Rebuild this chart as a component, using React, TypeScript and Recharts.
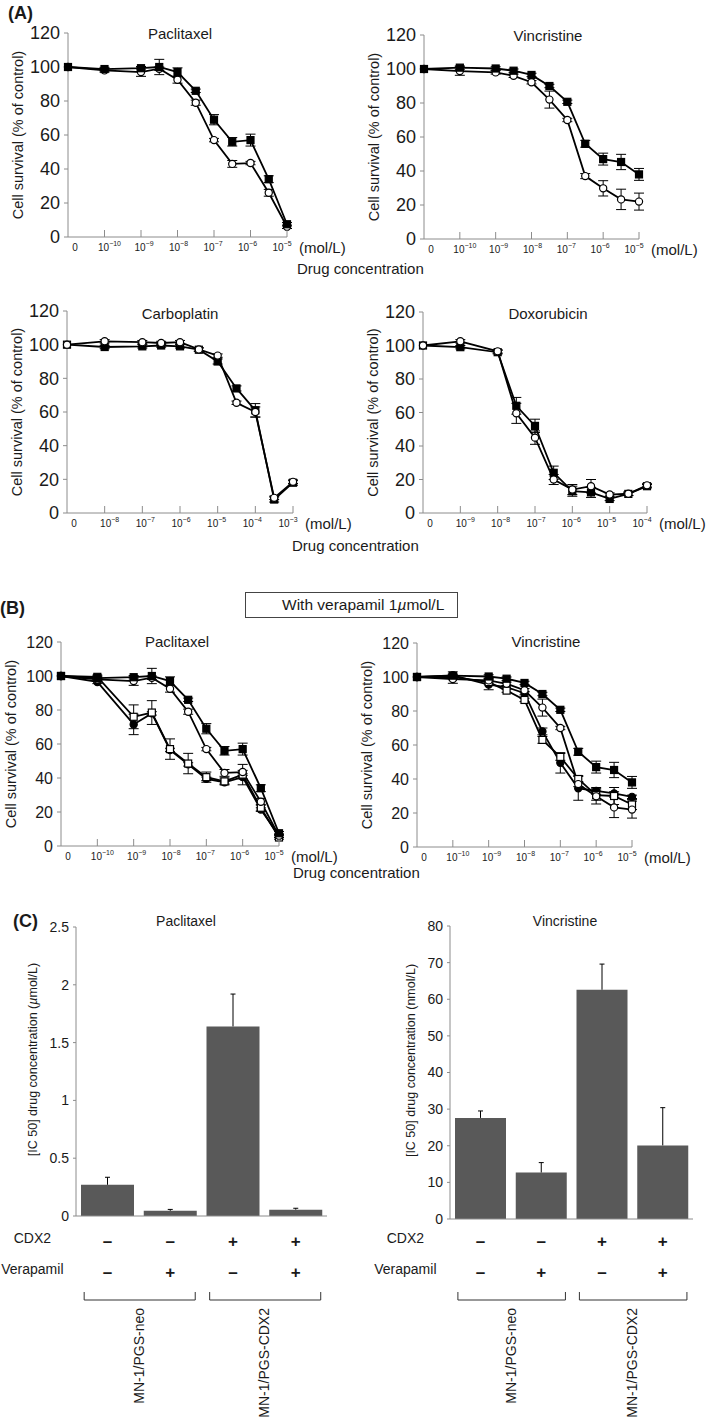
import React from 'react';
import { LineChart, Line, XAxis, YAxis, ErrorBar, BarChart, Bar } from 'recharts';

const AXIS = '#8c8c8c';
const INK = '#1a1a1a';
const FONT = "'Liberation Sans', Arial, Helvetica, sans-serif";
const NARROW = "'Liberation Sans Narrow', 'Arial Narrow', 'Liberation Sans', Arial, sans-serif";

// x positions on the log-concentration axis (0 = control, then one step per decade)
const concIndex = [0, 1, 2, 2.5, 3, 3.5, 4, 4.5, 5, 5.5, 6];
const expPacVin = [null, -10, -9, -8, -7, -6, -5];
const expCarbo = [null, -8, -7, -6, -5, -4, -3];
const expDoxo = [null, -9, -8, -7, -6, -5, -4];

// MN-1/PGS-CDX2 (filled squares) and MN-1/PGS-neo (open circles)
const pacCdx2 = [100, 98.8, 99.3, 100, 97, 86, 69, 56, 57, 34, 7.5];
const pacCdx2Err = [0, 1, 1, 4.5, 2.5, 1, 3, 2.5, 3.5, 2, 1];
const pacNeo = [100, 98, 97, 99, 92.5, 79, 57, 43, 43.5, 26, 6];
const pacNeoErr = [0, 1, 2.5, 1, 2, 1.5, 1, 2, 1, 2, 1];

const vinCdx2 = [100, 100.8, 100.3, 99, 96.5, 90, 80.7, 56, 47, 45.3, 38];
const vinCdx2Err = [0, 1, 1, 1, 1, 1, 1, 2, 3.5, 4.5, 3.5];
const vinNeo = [100, 98.8, 98, 96, 92.2, 82, 70, 37, 29.8, 23.3, 22];
const vinNeoErr = [0, 2.5, 1, 1, 1, 5, 1, 1.5, 4.5, 6, 5];

const carboCdx2 = [100, 98.6, 99, 99.5, 99, 97, 90, 74, 61, 8, 18];
const carboCdx2Err = [0, 1, 1, 1, 1, 1, 1.5, 1.5, 4, 1.5, 1.5];
const carboNeo = [100, 102, 101.5, 101, 101.5, 97.2, 93.5, 65.5, 60, 9, 18.5];
const carboNeoErr = [0, 1, 1, 1, 1, 1, 1, 1, 3, 1, 1];

const doxoCdx2 = [100, 99, 96, 64, 52, 24, 13, 12.3, 8.4, 11.4, 16];
const doxoCdx2Err = [0, 1, 1, 5, 4, 4, 3, 3, 1, 1, 1];
const doxoNeo = [100, 102.5, 96.5, 59.5, 45, 20, 14, 16, 11, 11.5, 16.5];
const doxoNeoErr = [0, 1, 1, 6, 4, 3, 3, 4, 1, 1, 1];

// with verapamil 1 umol/L
const pacNeoVera = [100, 96.5, 71.5, 78, 56.5, 48, 39.5, 37.5, 40.5, 21.5, 6];
const pacNeoVeraErr = [0, 1, 6, 1, 1, 1, 1, 1, 1, 1, 1];
const pacCdx2Vera = [100, 99.5, 76, 78.5, 57, 48.5, 40.5, 38, 42, 22.5, 5];
const pacCdx2VeraErr = [0, 1, 7, 7, 6, 6, 3, 2, 6, 2, 1];

const vinNeoVera = [100, 101, 95.5, 94, 90.5, 68, 49.5, 34.5, 33, 31.5, 29.5];
const vinNeoVeraErr = [0, 2, 3, 1, 1, 2, 6, 7, 2, 1, 1];
const vinCdx2Vera = [100, 100, 97, 92, 86.5, 63, 53, 40, 30.5, 30, 25];
const vinCdx2VeraErr = [0, 1, 1, 1, 1, 2, 2, 2, 3, 5, 3];

// (C) IC50
const ic50Groups = ['neo', 'neo+V', 'CDX2', 'CDX2+V'];
const cdx2Signs = ['–', '–', '+', '+'];
const verapamilSigns = ['–', '+', '–', '+'];
const cellLines = ['MN-1/PGS-neo', 'MN-1/PGS-CDX2'];
const pacIC50 = [0.27, 0.045, 1.64, 0.055];
const pacIC50Err = [0.065, 0.012, 0.28, 0.012];
const vinIC50 = [27.6, 12.7, 62.6, 20.1];
const vinIC50Err = [1.9, 2.7, 7.0, 10.3];

type MarkerKind = 'sqFilled' | 'circOpen' | 'circFilled' | 'sqOpen';
type Series = { id: string; values: number[]; errors: number[]; marker: MarkerKind };

function Marker({ cx, cy, kind }: { cx?: number; cy?: number; kind: MarkerKind }) {
  if (cx == null || cy == null || isNaN(cx) || isNaN(cy)) return null;
  const fill = kind === 'sqFilled' || kind === 'circFilled' ? '#000' : '#fff';
  if (kind === 'sqFilled' || kind === 'sqOpen') {
    return <rect x={cx - 3.5} y={cy - 3.5} width={7} height={7} fill={fill} stroke="#000" strokeWidth={1.2} />;
  }
  return <circle cx={cx} cy={cy} r={3.6} fill={fill} stroke="#000" strokeWidth={1.2} />;
}

function ConcTick(props: any) {
  const { x, y, payload, exps } = props;
  const i = Number(payload.value);
  const e = exps[i];
  const lx = x + 7 - 2 * i;
  return (
    <g>
      {i > 0 && <line x1={x} x2={x} y1={y} y2={y - 7} stroke={AXIS} />}
      <text x={lx} y={y + 10} textAnchor="middle" dominantBaseline="central" fontSize={10} fill={INK} fontFamily={FONT}>
        {e == null ? '0' : <>10<tspan dy={-4} fontSize={7}>{`\u2212${-e}`}</tspan></>}
      </text>
      {i === 6 && (
        <text x={x + 12} y={y + 10} dominantBaseline="central" fontSize={15} fill={INK} fontFamily={FONT}>(mol/L)</text>
      )}
    </g>
  );
}

function AxisTitle(props: any) {
  const { viewBox, dx, dy = 0, fontSize, children } = props;
  const vb = viewBox || { x: 0, y: 0, width: 0, height: 0 };
  const cx = vb.x + dx;
  const cy = vb.y + vb.height / 2 + dy;
  return (
    <text x={cx} y={cy} transform={`rotate(-90 ${cx} ${cy})`} textAnchor="middle" dominantBaseline="central"
      fontSize={fontSize} fill={INK} fontFamily={FONT}>
      {children}
    </text>
  );
}

function SurvivalChart({ x0, y0, w, h, exps, series, tickFont, tickSize }: {
  x0: number; y0: number; w: number; h: number; exps: (number | null)[]; series: Series[]; tickFont: string; tickSize: number;
}) {
  const data = concIndex.map((x, i) => {
    const row: Record<string, number> = { x };
    series.forEach(s => { row[s.id] = s.values[i]; row[s.id + 'Err'] = s.errors[i]; });
    return row;
  });
  const padL = 60, padT = 10, padR = 75, padB = 30;
  return (
    <div style={{ position: 'absolute', left: x0 - padL, top: y0 - padT }}>
      <LineChart width={padL + w + padR} height={padT + h + padB} data={data}
        margin={{ top: padT, right: padR, bottom: 0, left: 0 }}>
        <XAxis dataKey="x" type="number" domain={[0, 6]} ticks={[0, 1, 2, 3, 4, 5, 6]} interval={0}
          height={padB} tickLine={false} tickSize={0} tickMargin={0} stroke={AXIS}
          tick={(p: any) => <ConcTick {...p} exps={exps} />} />
        <YAxis domain={[0, 120]} ticks={[0, 20, 40, 60, 80, 100, 120]} interval={0} width={padL}
          stroke={AXIS} tickSize={4} tickMargin={4}
          tick={{ fill: INK, fontSize: tickSize, fontFamily: tickFont }}
          label={(p: any) => <AxisTitle viewBox={p.viewBox} dx={10} fontSize={14.5}>Cell survival (% of control)</AxisTitle>} />
        {series.map(s => (
          <Line key={s.id} dataKey={s.id} type="linear" stroke="#000" strokeWidth={1.8} isAnimationActive={false}
            activeDot={false}
            dot={(p: any) => <Marker key={`${s.id}-${p.index}`} cx={p.cx} cy={p.cy} kind={s.marker} />}>
            <ErrorBar dataKey={s.id + 'Err'} direction="y" width={5} stroke="#000" strokeWidth={1} />
          </Line>
        ))}
      </LineChart>
    </div>
  );
}

function GroupTick(props: any) {
  const { x, y, index, step, rowShift } = props;
  const r1 = y + 25 + rowShift;
  const r2 = y + 56 + rowShift;
  const txt = { fontFamily: FONT, fill: INK } as const;
  return (
    <g>
      {index === 0 && (
        <>
          <text x={x - 75} y={r1 - 3} textAnchor="middle" dominantBaseline="central" fontSize={14} {...txt}>CDX2</text>
          <text x={x - 75} y={r2 - 3} textAnchor="middle" dominantBaseline="central" fontSize={14} {...txt}>Verapamil</text>
        </>
      )}
      <text x={x} y={r1} textAnchor="middle" dominantBaseline="central" fontSize={17} fontWeight="bold" {...txt}>{cdx2Signs[index]}</text>
      <text x={x} y={r2} textAnchor="middle" dominantBaseline="central" fontSize={17} fontWeight="bold" {...txt}>{verapamilSigns[index]}</text>
      {index % 2 === 0 && (
        <>
          <path d={`M${x - 0.37 * step},${r2 + 20} V${r2 + 28} H${x + 1.4 * step} V${r2 + 20}`} fill="none" stroke="#333" strokeWidth={1} />
          <text transform={`translate(${x + 0.5 * step},${r2 + 36}) rotate(-90)`} textAnchor="end" dominantBaseline="central"
            fontSize={14} {...txt}>{cellLines[index / 2]}</text>
        </>
      )}
    </g>
  );
}

// upper-only error whisker, drawn as a stacked segment on top of each bar
function Whisker(props: any) {
  const { x, y, width, height } = props;
  if (x == null || y == null || !height) return null;
  const cx = x + width / 2;
  return (
    <g>
      <line x1={cx} x2={cx} y1={y} y2={y + height} stroke="#000" strokeWidth={1} />
      <line x1={cx - 2.5} x2={cx + 2.5} y1={y} y2={y} stroke="#000" strokeWidth={1} />
    </g>
  );
}

function IC50Chart({ left, x0, y0, w, h, bottom, values, errors, yMax, yTicks, title, labelDx, labelDy, rowShift }: any) {
  const data = ic50Groups.map((g, i) => ({ group: g, value: values[i], err: errors[i] }));
  const padT = 10, padR = 10;
  const yw = x0 - left;
  return (
    <div style={{ position: 'absolute', left, top: y0 - padT }}>
      <BarChart width={yw + w + padR} height={padT + h + bottom} data={data} barCategoryGap={5}
        margin={{ top: padT, right: padR, bottom: 0, left: 0 }}>
        <XAxis dataKey="group" type="category" interval={0} height={bottom} tickLine={false} tickSize={0} tickMargin={0}
          stroke={AXIS} tick={(p: any) => <GroupTick {...p} step={w / 4} rowShift={rowShift} />} />
        <YAxis domain={[0, yMax]} ticks={yTicks} interval={0} width={yw} stroke={AXIS} tickSize={3} tickMargin={4}
          tick={{ fill: INK, fontSize: 14, fontFamily: FONT }}
          label={(p: any) => <AxisTitle viewBox={p.viewBox} dx={labelDx} dy={labelDy} fontSize={12.5}>{title}</AxisTitle>} />
        <Bar dataKey="value" stackId="ic" fill="#595959" isAnimationActive={false} />
        <Bar dataKey="err" stackId="ic" fill="none" isAnimationActive={false} shape={(p: any) => <Whisker {...p} />} />
      </BarChart>
    </div>
  );
}

function Txt({ x, y, size = 15, bold = false, anchor = 'start', children }: any) {
  return (
    <div style={{
      position: 'absolute', left: x, top: y, fontSize: size, fontWeight: bold ? 700 : 400, lineHeight: 1,
      whiteSpace: 'nowrap', color: INK, transform: `translate(${anchor === 'middle' ? '-50%' : '0'}, -50%)`,
    }}>{children}</div>
  );
}

const pacSeriesA: Series[] = [
  { id: 'neo', values: pacNeo, errors: pacNeoErr, marker: 'circOpen' },
  { id: 'cdx2', values: pacCdx2, errors: pacCdx2Err, marker: 'sqFilled' },
];
const vinSeriesA: Series[] = [
  { id: 'neo', values: vinNeo, errors: vinNeoErr, marker: 'circOpen' },
  { id: 'cdx2', values: vinCdx2, errors: vinCdx2Err, marker: 'sqFilled' },
];
const carboSeries: Series[] = [
  { id: 'cdx2', values: carboCdx2, errors: carboCdx2Err, marker: 'sqFilled' },
  { id: 'neo', values: carboNeo, errors: carboNeoErr, marker: 'circOpen' },
];
const doxoSeries: Series[] = [
  { id: 'cdx2', values: doxoCdx2, errors: doxoCdx2Err, marker: 'sqFilled' },
  { id: 'neo', values: doxoNeo, errors: doxoNeoErr, marker: 'circOpen' },
];
const pacSeriesB: Series[] = [
  { id: 'neoV', values: pacNeoVera, errors: pacNeoVeraErr, marker: 'circFilled' },
  { id: 'cdx2V', values: pacCdx2Vera, errors: pacCdx2VeraErr, marker: 'sqOpen' },
  { id: 'neo', values: pacNeo, errors: pacNeoErr, marker: 'circOpen' },
  { id: 'cdx2', values: pacCdx2, errors: pacCdx2Err, marker: 'sqFilled' },
];
const vinSeriesB: Series[] = [
  { id: 'neoV', values: vinNeoVera, errors: vinNeoVeraErr, marker: 'circFilled' },
  { id: 'cdx2V', values: vinCdx2Vera, errors: vinCdx2VeraErr, marker: 'sqOpen' },
  { id: 'neo', values: vinNeo, errors: vinNeoErr, marker: 'circOpen' },
  { id: 'cdx2', values: vinCdx2, errors: vinCdx2Err, marker: 'sqFilled' },
];

export default function App() {
  return (
    <div style={{ position: 'absolute', left: 0, top: 0, width: 709, height: 1418, overflow: 'hidden', background: '#fff', fontFamily: FONT }}>
      <Txt x={8} y={13} size={18} bold>(A)</Txt>
      <Txt x={180} y={33} anchor="middle">Paclitaxel</Txt>
      <Txt x={548} y={35} anchor="middle">Vincristine</Txt>
      <SurvivalChart x0={68} y0={33} w={219} h={204} exps={expPacVin} series={pacSeriesA} tickFont={NARROW} tickSize={18} />
      <SurvivalChart x0={424} y0={35} w={215} h={204} exps={expPacVin} series={vinSeriesA} tickFont={NARROW} tickSize={18} />
      <Txt x={297} y={268}>Drug concentration</Txt>

      <Txt x={180} y={313} anchor="middle">Carboplatin</Txt>
      <Txt x={548} y={313} anchor="middle">Doxorubicin</Txt>
      <SurvivalChart x0={67} y0={311} w={226} h={202} exps={expCarbo} series={carboSeries} tickFont={NARROW} tickSize={18} />
      <SurvivalChart x0={423} y0={312} w={224} h={201} exps={expDoxo} series={doxoSeries} tickFont={NARROW} tickSize={18} />
      <Txt x={292} y={545}>Drug concentration</Txt>

      <Txt x={0} y={608} size={18} bold>(B)</Txt>
      <div style={{
        position: 'absolute', left: 245, top: 592, width: 213, height: 26, boxSizing: 'border-box',
        border: '1px solid #444', fontSize: 15.5, lineHeight: '24px', paddingLeft: 36, whiteSpace: 'nowrap', color: INK,
      }}>With verapamil 1<i>µ</i>mol/L</div>
      <Txt x={177} y={641} anchor="middle">Paclitaxel</Txt>
      <Txt x={546} y={641} anchor="middle">Vincristine</Txt>
      <SurvivalChart x0={61} y0={642} w={218} h={204} exps={expPacVin} series={pacSeriesB} tickFont={FONT} tickSize={16} />
      <SurvivalChart x0={417} y0={643} w={215} h={204} exps={expPacVin} series={vinSeriesB} tickFont={FONT} tickSize={16} />
      <Txt x={293} y={872}>Drug concentration</Txt>

      <Txt x={13} y={921} size={18} bold>(C)</Txt>
      <Txt x={186} y={921} size={14} anchor="middle">Paclitaxel</Txt>
      <Txt x={565} y={921} size={14} anchor="middle">Vincristine</Txt>
      <IC50Chart left={0} x0={76} y0={927} w={251} h={289} bottom={202}
        values={pacIC50} errors={pacIC50Err} yMax={2.5} yTicks={[0, 0.5, 1, 1.5, 2, 2.5]}
        title={<>[IC 50] drug concentration (<tspan fontStyle="italic">µ</tspan>mol/L)</>} labelDx={33} labelDy={-12} rowShift={0} />
      <IC50Chart left={371} x0={450} y0={926} w={243} h={293} bottom={199}
        values={vinIC50} errors={vinIC50Err} yMax={80} yTicks={[0, 10, 20, 30, 40, 50, 60, 70, 80]}
        title="[IC 50] drug concentration (nmol/L)" labelDx={40} labelDy={-12} rowShift={-3} />
    </div>
  );
}
